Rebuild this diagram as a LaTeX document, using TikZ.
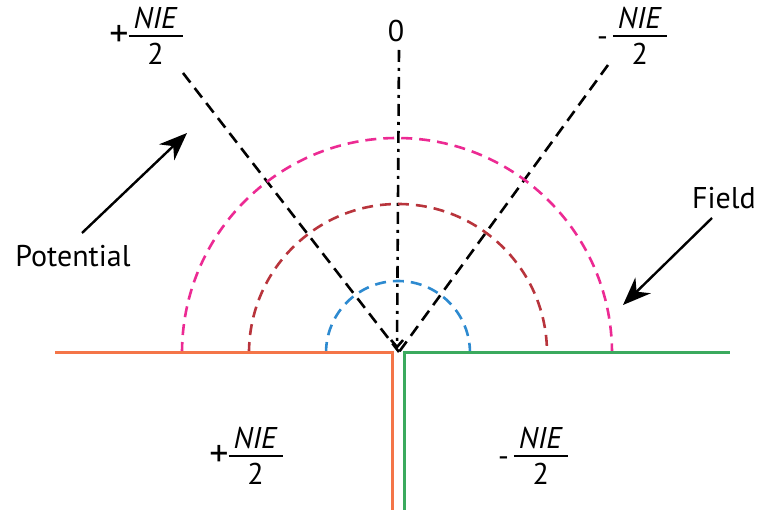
\documentclass[tikz,border=0pt]{standalone}
\usepackage{fontspec}
\setmainfont{PT Sans}
\usepackage{tikz}
\usetikzlibrary{arrows.meta}
\definecolor{potorange}{HTML}{F47548}
\definecolor{fieldgreen}{HTML}{3BAA5E}
\definecolor{arcpink}{HTML}{EC2A93}
\definecolor{arcred}{HTML}{B8343C}
\definecolor{arcblue}{HTML}{2D8AD0}
\setlength{\arrayrulewidth}{2pt}
\newcommand{\halfnie}[1]{#1\begin{tabular}{@{\,}c@{\,}}\textit{NIE}\\[-4pt]\hline\rule{0pt}{28pt}2\end{tabular}}
\newcommand{\bigplus}{{\fontsize{38}{40}\selectfont+}}

\begin{document}
\begin{tikzpicture}[x=1pt,y=-1pt,
  lbl/.style={font=\fontsize{30}{34}\selectfont,inner sep=0pt},
  ray/.style={black,line width=2.6pt,dash pattern=on 12pt off 7pt},
  axis/.style={black,line width=2.6pt,dash pattern=on 12pt off 6pt on 3pt off 6pt},
  arcd/.style={line width=2.6pt,dash pattern=on 11pt off 7pt},
  wall/.style={line width=3pt},
  arr/.style={line width=2.4pt,-{Stealth[length=28pt,width=22pt,inset=9pt]}}]
  \useasboundingbox (0,0) rectangle (758,510);
  % corner and ends of the three rays
  \coordinate (O) at (399,352);
  \coordinate (tl) at (183,73);
  \coordinate (tr) at (608,65);
  \coordinate (tc) at (399,50);
  \coordinate (tb) at (397,349);
  \draw[ray] (tl) -- (O);
  \draw[ray] (tr) -- (O);
  \draw[axis,-{Straight Barb[length=7pt,width=12pt]}] (tc) -- (tb);
  % arcs
  \draw[arcd,arcpink] (182,353) arc[start angle=180,end angle=360,radius=215];
  \draw[arcd,arcred] (249,353) arc[start angle=180,end angle=360,radius=149];
  \draw[arcd,arcblue] (326,353) arc[start angle=180,end angle=360,radius=72];
  % the two plates
  \draw[wall,potorange] (55,353) -- (392,353) -- (392,510);
  \draw[wall,fieldgreen] (404,510) -- (404,353) -- (730,353);
  % labels
  \node[lbl] (pl) at (146,40) {\halfnie{\bigplus}};
  \node[lbl] (zero) at (396,31) {0};
  \node[lbl] (mi) at (632,40) {\halfnie{-\,}};
  \node[lbl] (bpl) at (246,460) {\halfnie{\bigplus}};
  \node[lbl] (bmi) at (533,460) {\halfnie{-\,}};
  \node[lbl] (pot) at (73,256) {Potential};
  \node[lbl] (fld) at (724,198) {Field};
  \coordinate (pottail) at (82,233);
  \coordinate (pottip) at (187,133);
  \coordinate (fldtail) at (712,218);
  \coordinate (fldtip) at (623,305);
  \draw[arr] (pottail) -- (pottip);
  \draw[arr] (fldtail) -- (fldtip);
\end{tikzpicture}
\end{document}
